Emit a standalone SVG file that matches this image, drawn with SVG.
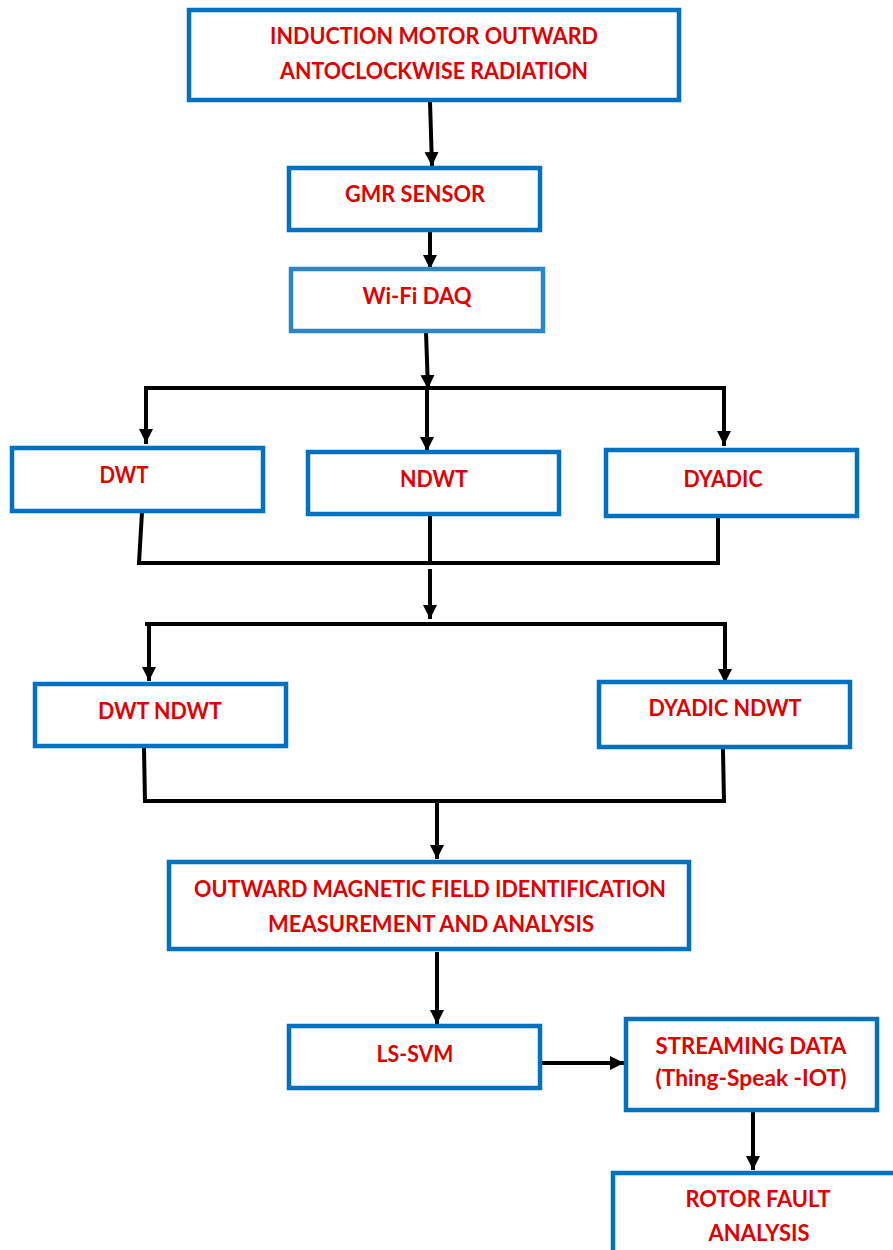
<svg xmlns="http://www.w3.org/2000/svg" width="893" height="1250" viewBox="0 0 893 1250">
<style>
.box{fill:#fff;stroke:#0070C0;stroke-width:4.5}
.box2{fill:#fff;stroke:#2E86C6;stroke-width:4.5}
.t{font-family:Lato,"Open Sans","Liberation Sans",sans-serif;font-weight:bold;font-size:22px;fill:#E00000;text-anchor:middle}
.c{stroke:#000;stroke-width:4;fill:none;stroke-linecap:square}
.a{stroke:#000;stroke-width:4;fill:none;marker-end:url(#ah)}
</style>
<defs>
<marker id="ah" markerUnits="userSpaceOnUse" markerWidth="14" markerHeight="16" refX="14" refY="7" orient="auto" viewBox="0 0 14 14">
<path d="M0,0 L14,7 L0,14 Z" fill="#000"/>
</marker>
</defs>
<rect width="893" height="1250" fill="#fff"/>
<g id="connectors">
<line class="a" x1="430" y1="102" x2="432" y2="166"/>
<line class="a" x1="430" y1="231" x2="430" y2="269"/>
<line class="a" x1="426" y1="332" x2="428" y2="389"/>
<polyline class="c" points="146,442 146,388 724,388 724,444"/>
<line class="a" x1="146" y1="390" x2="146" y2="443"/>
<line class="a" x1="427" y1="390" x2="427" y2="451"/>
<line class="a" x1="724" y1="390" x2="724" y2="445"/>
<polyline class="c" points="142,512 139,563 718,563 718,520"/>
<line class="c" x1="430" y1="516" x2="430" y2="559"/>
<line class="a" x1="430" y1="569" x2="430" y2="619"/>
<line class="c" x1="147" y1="624" x2="725" y2="624"/>
<line class="a" x1="149" y1="624" x2="149" y2="681"/>
<line class="a" x1="725" y1="624" x2="725" y2="683"/>
<polyline class="c" points="144,749 145,801 724,801 723,751"/>
<line class="a" x1="437" y1="801" x2="437" y2="859"/>
<line class="a" x1="437" y1="952" x2="437" y2="1024"/>
<line class="a" x1="541" y1="1063" x2="624" y2="1063"/>
<line class="a" x1="753" y1="1112" x2="753" y2="1170"/>
</g>
<g id="n1"><rect class="box" x="189" y="10" width="490" height="90"/>
<text class="t" x="434" y="44" textLength="328" lengthAdjust="spacingAndGlyphs">INDUCTION MOTOR OUTWARD</text>
<text class="t" x="434" y="79" textLength="308" lengthAdjust="spacingAndGlyphs">ANTOCLOCKWISE RADIATION</text></g>
<g id="n2"><rect class="box" x="289" y="168" width="251" height="62"/>
<text class="t" x="415" y="202" textLength="140" lengthAdjust="spacingAndGlyphs">GMR SENSOR</text></g>
<g id="n3"><rect class="box2" x="291" y="269" width="252" height="62"/>
<text class="t" x="417" y="304" textLength="109" lengthAdjust="spacingAndGlyphs">Wi-Fi DAQ</text></g>
<g id="n4"><rect class="box" x="12" y="448" width="251" height="63"/>
<text class="t" x="124" y="483" textLength="49" lengthAdjust="spacingAndGlyphs">DWT</text></g>
<g id="n5"><rect class="box" x="308" y="452" width="251" height="62"/>
<text class="t" x="434" y="487" textLength="68" lengthAdjust="spacingAndGlyphs">NDWT</text></g>
<g id="n6"><rect class="box" x="606" y="450" width="251" height="66"/>
<text class="t" x="723" y="487" textLength="79" lengthAdjust="spacingAndGlyphs">DYADIC</text></g>
<g id="n7"><rect class="box" x="35" y="684" width="251" height="62"/>
<text class="t" x="160" y="719" textLength="124" lengthAdjust="spacingAndGlyphs">DWT NDWT</text></g>
<g id="n8"><rect class="box" x="599" y="682" width="251" height="65"/>
<text class="t" x="725" y="716" textLength="153" lengthAdjust="spacingAndGlyphs">DYADIC NDWT</text></g>
<g id="n9"><rect class="box" x="169" y="862" width="520" height="87"/>
<text class="t" x="430" y="897" textLength="472" lengthAdjust="spacingAndGlyphs">OUTWARD MAGNETIC FIELD IDENTIFICATION</text>
<text class="t" x="431" y="932" textLength="326" lengthAdjust="spacingAndGlyphs">MEASUREMENT AND ANALYSIS</text></g>
<g id="n10"><rect class="box" x="289" y="1026" width="251" height="62"/>
<text class="t" x="415" y="1062" textLength="77" lengthAdjust="spacingAndGlyphs">LS-SVM</text></g>
<g id="n11"><rect class="box" x="626" y="1019" width="251" height="91"/>
<text class="t" x="751" y="1054" textLength="191" lengthAdjust="spacingAndGlyphs">STREAMING DATA</text>
<text class="t" x="751" y="1086" textLength="191" lengthAdjust="spacingAndGlyphs">(Thing-Speak -IOT)</text></g>
<g id="n12"><rect class="box" x="613" y="1173" width="300" height="100"/>
<text class="t" x="758" y="1207" textLength="145" lengthAdjust="spacingAndGlyphs">ROTOR FAULT</text>
<text class="t" x="759" y="1241" textLength="101" lengthAdjust="spacingAndGlyphs">ANALYSIS</text></g>
</svg>
